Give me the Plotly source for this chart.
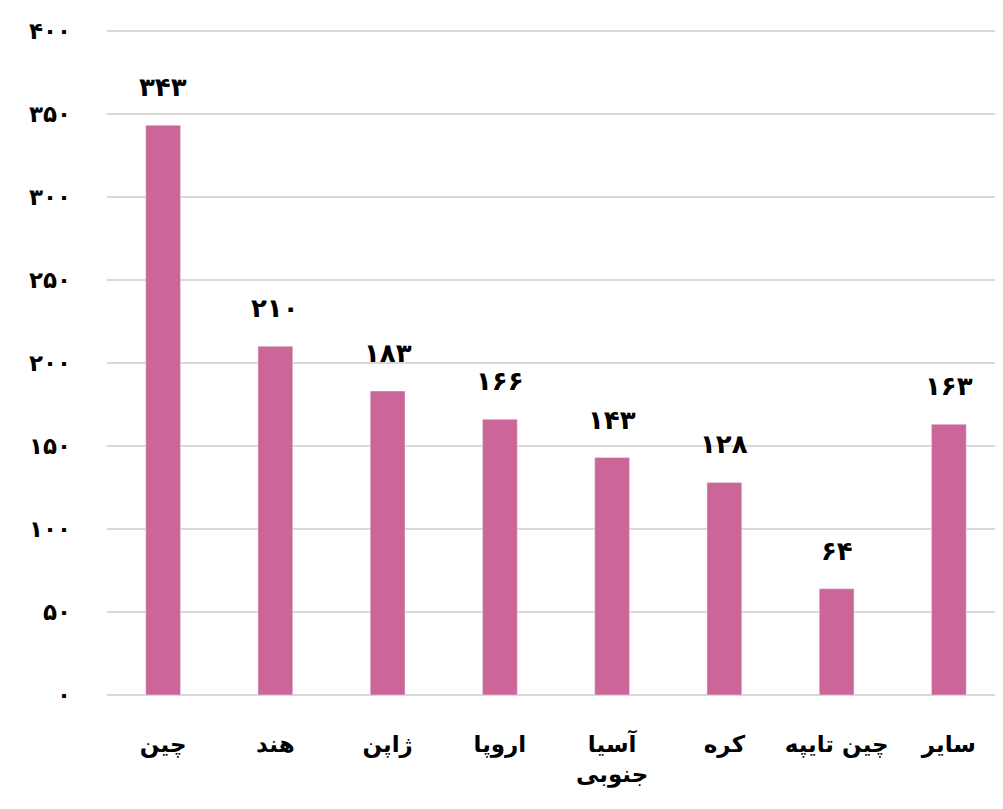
import plotly.graph_objects as go

categories = ["چین", "هند", "ژاپن", "اروپا", "آسیا<br>جنوبی", "کره", "چین تایپه", "سایر"]
values = [343, 210, 183, 166, 143, 128, 64, 163]
y_ticks = [0, 50, 100, 150, 200, 250, 300, 350, 400]

FA = str.maketrans("0123456789", "۰۱۲۳۴۵۶۷۸۹")
def fa(n):
    return str(n).translate(FA)

font_family = "DejaVu Sans"

fig = go.Figure(go.Bar(
    x=categories,
    y=values,
    marker_color="#CC6699",
    width=0.31,
))

for c, v in zip(categories, values):
    fig.add_annotation(
        x=c, y=v, text=fa(v), showarrow=False,
        yanchor="bottom", yshift=21,
        font=dict(family=font_family, size=26, color="#000000", weight="bold"),
    )

fig.update_layout(
    width=1003, height=809,
    margin=dict(l=99, r=6, t=21, b=122),
    plot_bgcolor="white", paper_bgcolor="white",
    showlegend=False,
    font=dict(family=font_family, size=20, color="#000000"),
)
fig.update_xaxes(
    showgrid=False, showline=False, ticks="", automargin=False,
    tickfont=dict(family=font_family, size=23, color="#000000", weight="bold"),
    ticklabelstandoff=33,
)
fig.update_yaxes(
    range=[0, 401],
    tickvals=y_ticks,
    ticktext=[fa(t) for t in y_ticks],
    showgrid=True, gridcolor="#d9d9d9", gridwidth=1.5,
    zeroline=True, zerolinecolor="#d9d9d9", zerolinewidth=1.5,
    showline=False, ticks="", automargin=False,
    tickfont=dict(family=font_family, size=23, color="#000000", weight="bold"),
    ticklabelstandoff=35,
)

fig.write_html("out.html")
